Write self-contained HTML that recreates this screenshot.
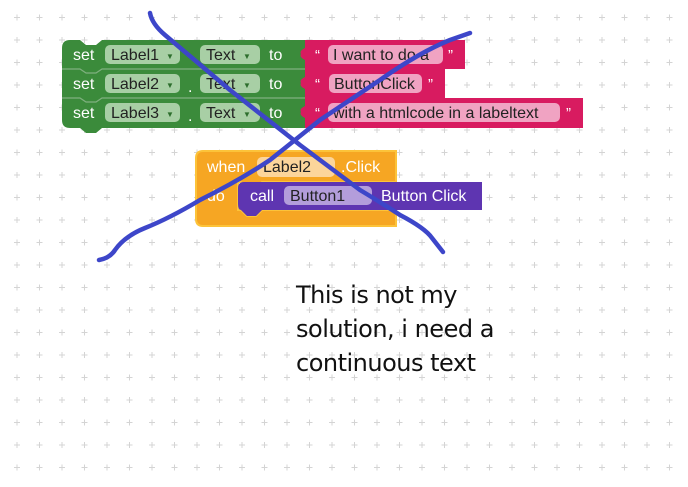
<!DOCTYPE html>
<html><head><meta charset="utf-8"><style>
html,body{margin:0;padding:0;background:#fff;}
svg{display:block;font-family:"Liberation Sans",Arial,sans-serif;}
</style></head><body>
<svg width="688" height="487" viewBox="0 0 688 487" xmlns="http://www.w3.org/2000/svg">
<defs>
<pattern id="g" x="11" y="11.5" width="22.5" height="22.5" patternUnits="userSpaceOnUse">
<path d="M6 3V9M3 6H9" stroke="#d4d4d4" stroke-width="1"/>
</pattern>
</defs>
<rect width="688" height="487" fill="url(#g)"/>

<path d="M62 48 Q62 40 70 40 H80 L86 45 H96 L102 40 H306 V128 H102 L96 133 H86 L80 128 H70 Q62 128 62 120 Z" fill="#3b8b3b"/>
<path d="M62 69 H80 L86 73 H96 L102 69 H306 M62 98 H80 L86 102 H96 L102 98 H306" stroke="#7fb07f" stroke-width="1.2" fill="none"/>
<g font-size="16" fill="#fff">
<text x="73" y="60">set</text><text x="73" y="89">set</text><text x="73" y="118">set</text>
<text x="269" y="60">to</text><text x="269" y="89">to</text><text x="269" y="118">to</text>
<text x="188" y="92">.</text><text x="188" y="121">.</text>
</g>
<g fill="#a8cfa5">
<rect x="105" y="45" width="75" height="19" rx="5"/><rect x="200" y="45" width="60" height="19" rx="5"/>
<rect x="105" y="74" width="75" height="19" rx="5"/><rect x="200" y="74" width="60" height="19" rx="5"/>
<rect x="105" y="103" width="75" height="19" rx="5"/><rect x="200" y="103" width="60" height="19" rx="5"/>
</g>
<g font-size="16" fill="#222">
<text x="111" y="60">Label1</text><text x="206" y="60">Text</text>
<text x="111" y="89">Label2</text><text x="206" y="89">Text</text>
<text x="111" y="118">Label3</text><text x="206" y="118">Text</text>
</g>
<g fill="#2d6e2d" font-size="8"><text x="166" y="59">▼</text><text x="243" y="59">▼</text><text x="166" y="88">▼</text><text x="243" y="88">▼</text><text x="166" y="117">▼</text><text x="243" y="117">▼</text></g>

<g fill="#d81b60">
<path d="M305 40 H465 V69 H305 V60 Q299 57 301 54 Q299 51 305 48 Z"/>
<path d="M305 69 H445 V98 H305 V89 Q299 86 301 83 Q299 80 305 77 Z"/>
<path d="M305 98 H583 V128 H305 V118 Q299 115 301 112 Q299 109 305 106 Z"/>
</g>
<g fill="#f0a3c2">
<rect x="328" y="45" width="115" height="19" rx="5"/>
<rect x="329" y="74" width="93" height="19" rx="5"/>
<rect x="328" y="103" width="232" height="19" rx="5"/>
</g>
<g font-size="15" fill="#fff"><text x="315" y="60">“</text><text x="448" y="60">”</text><text x="315" y="89">“</text><text x="428" y="89">”</text><text x="315" y="118">“</text><text x="566" y="118">”</text></g>
<g font-size="16" fill="#222"><text x="333" y="60">I want to do a</text><text x="334" y="89">ButtonClick</text><text x="333" y="118">with a htmlcode in a labeltext</text></g>

<path d="M196 158 Q196 151 203 151 H396 V182 H262 L256 188 H247 L241 182 H238 V210 H241 L247 216 H256 L262 210 H396 V226 H203 Q196 226 196 219 Z" fill="#f6a623" stroke="#fcc33a" stroke-width="2"/>
<rect x="257" y="157" width="78" height="20" rx="5" fill="#fcd59a"/>
<g font-size="16" fill="#fff"><text x="207" y="172">when</text><text x="341" y="172">.Click</text><text x="207" y="201">do</text></g>
<text x="263" y="172" font-size="16" fill="#222">Label2</text>

<path d="M244 182 H482 V210 H262 L256 216 H247 L241 210 Q238 210 238 204 V188 Q238 182 244 182 Z" fill="#5e35b1"/>
<rect x="284" y="186" width="88" height="19" rx="5" fill="#b39ddb"/>
<g font-size="16" fill="#fff"><text x="250" y="201">call</text><text x="381" y="201">Button Click</text></g>
<text x="290" y="201" font-size="16" fill="#222">Button1</text>

<g fill="none" stroke="#3d46c9" stroke-width="4.5" stroke-linecap="round" stroke-linejoin="round">
<path d="M150 13 Q152 24 165 35 L230 90 L300 145 L360 190 Q385 205 400 215 Q425 228 432 238 L443 252"/>
<path d="M99 260 Q110 258 115 250 Q125 236 145 228 Q170 218 200 200 Q240 180 270 160 L320 120 L380 80 Q420 52 450 40 L470 33"/>
</g>

<g font-size="24" fill="#111" font-family="'DejaVu Sans','Liberation Sans',sans-serif" letter-spacing="-0.5">
<text x="296" y="303">This is not my</text>
<text x="296" y="337">solution, i need a</text>
<text x="296" y="371">continuous text</text>
</g>
</svg>
</body></html>
